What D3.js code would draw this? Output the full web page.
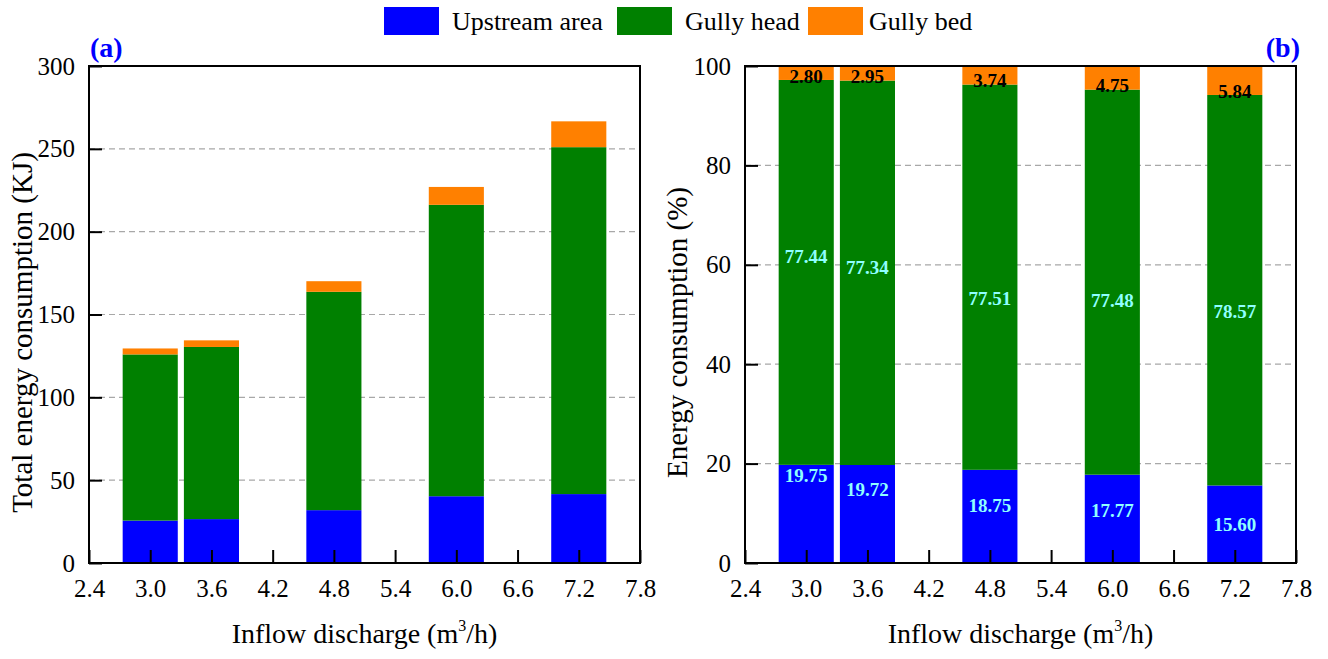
<!DOCTYPE html>
<html>
<head>
<meta charset="utf-8">
<script src="https://cdn.jsdelivr.net/npm/d3@7"></script>
<style>
  html, body { margin: 0; padding: 0; background: #fff; }
  svg { display: block; font-family: "Liberation Serif", "Times New Roman", serif; }
</style>
</head>
<body>
<svg id="chart" width="1328" height="659"></svg>
<script>
// Inflow discharge (m3/h) of each run
const discharge = [3.0, 3.6, 4.8, 6.0, 7.2];
const seriesNames = ["Upstream area", "Gully head", "Gully bed"];
const seriesColors = ["#0000ff", "#008000", "#ff8000"];

// (a) energy consumed in each zone, KJ
const upstreamKJ = [25.6, 26.5, 31.9, 40.3, 41.6];
const gullyHeadKJ = [100.3, 103.9, 131.8, 175.9, 209.4];
const gullyBedKJ = [3.6, 4.0, 6.4, 10.8, 15.6];

// (b) share of the total, %
const upstreamPct = [19.75, 19.72, 18.75, 17.77, 15.60];
const gullyHeadPct = [77.44, 77.34, 77.51, 77.48, 78.57];
const gullyBedPct = [2.80, 2.95, 3.74, 4.75, 5.84];

// where the percentage labels sit inside their segments (in % units)
const upstreamLabelAt = [17.7, 14.9, 11.7, 10.5, 7.8];
const gullyHeadLabelAt = [61.8, 59.4, 53.3, 52.9, 50.7];

// axis ticks
const xTicks = [2.4, 3.0, 3.6, 4.2, 4.8, 5.4, 6.0, 6.6, 7.2, 7.8];
const yTicksA = [0, 50, 100, 150, 200, 250, 300];
const yTicksB = [0, 20, 40, 60, 80, 100];

const svg = d3.select("#chart");
const barWidth = 0.54;   // bar width in discharge units
const plotTop = 66, plotBottom = 563;

function stackRows(a, b, c) {
  return discharge.map((q, i) => ({ q, a: a[i], b: b[i], c: c[i] }));
}

function drawPanel(opt) {
  const x = d3.scaleLinear().domain([2.4, 7.8]).range([opt.left, opt.right]);
  const y = d3.scaleLinear().domain(opt.yDomain).range([plotBottom, plotTop]);
  const g = svg.append("g");

  // dashed grid
  g.append("g").selectAll("line")
    .data(opt.yTicks.filter(t => t > opt.yDomain[0] && t < opt.yDomain[1]))
    .join("line")
    .attr("x1", opt.left).attr("x2", opt.right)
    .attr("y1", d => y(d)).attr("y2", d => y(d))
    .attr("stroke", "#a8a8a8").attr("stroke-width", 1.2)
    .attr("stroke-dasharray", "6,4");

  // stacked bars
  const stack = d3.stack().keys(["a", "b", "c"])(opt.rows);
  const w = x(barWidth) - x(0);
  g.append("g").selectAll("g")
    .data(stack)
    .join("g")
    .attr("fill", (d, i) => seriesColors[i])
    .selectAll("rect")
    .data(d => d)
    .join("rect")
    .attr("x", d => x(d.data.q) - w / 2)
    .attr("width", w)
    .attr("y", d => y(d[1]))
    .attr("height", d => y(d[0]) - y(d[1]));

  if (opt.labels) opt.labels(g, x, y, stack);

  // axes with inward ticks
  const xAxis = d3.axisBottom(x).tickValues(xTicks).tickFormat(d3.format(".1f"))
    .tickSizeInner(-13).tickSizeOuter(0).tickPadding(16);
  const gx = g.append("g").attr("transform", `translate(0,${plotBottom})`).call(xAxis);
  const yAxis = d3.axisLeft(y).tickValues(opt.yTicks).tickFormat(d3.format("d"))
    .tickSizeInner(-13).tickSizeOuter(0).tickPadding(14);
  const gy = g.append("g").attr("transform", `translate(${opt.left},0)`).call(yAxis);
  [gx, gy].forEach(a => {
    a.select(".domain").remove();
    a.selectAll(".tick line").attr("stroke", "#000").attr("stroke-width", 2);
    a.selectAll(".tick text").attr("fill", "#000")
      .style("font-size", "25px").style("font-family", "Liberation Serif");
  });
  gx.selectAll(".tick text").attr("dy", "0.71em");

  // frame
  g.append("rect")
    .attr("x", opt.left).attr("y", plotTop)
    .attr("width", opt.right - opt.left).attr("height", plotBottom - plotTop)
    .attr("fill", "none").attr("stroke", "#000").attr("stroke-width", 2);

  // axis titles
  const xt = g.append("text")
    .attr("x", (opt.left + opt.right) / 2).attr("y", 643)
    .attr("text-anchor", "middle").style("font-size", "28px");
  xt.append("tspan").text("Inflow discharge (m");
  xt.append("tspan").text("3").attr("dy", -12).style("font-size", "16px");
  xt.append("tspan").text("/h)").attr("dy", 12);

  g.append("text")
    .attr("transform", `translate(${opt.yTitleX},${(plotTop + plotBottom) / 2 + 18}) rotate(-90)`)
    .attr("text-anchor", "middle").style("font-size", "29px")
    .text(opt.yTitle);

  // panel tag
  g.append("text")
    .attr("x", opt.tagX).attr("y", 57)
    .attr("text-anchor", opt.tagAnchor)
    .attr("fill", "#0000ff").style("font-size", "28px").style("font-weight", "bold")
    .text(opt.tag);
}

drawPanel({
  left: 89, right: 640,
  yDomain: [0, 300], yTicks: yTicksA,
  rows: stackRows(upstreamKJ, gullyHeadKJ, gullyBedKJ),
  yTitle: "Total energy consumption (KJ)", yTitleX: 32,
  tag: "(a)", tagX: 90, tagAnchor: "start"
});

drawPanel({
  left: 745, right: 1296,
  yDomain: [0, 100], yTicks: yTicksB,
  rows: stackRows(upstreamPct, gullyHeadPct, gullyBedPct),
  yTitle: "Energy consumption (%)", yTitleX: 687,
  tag: "(b)", tagX: 1300, tagAnchor: "end",
  labels: (g, x, y, stack) => {
    const lab = g.append("g").attr("text-anchor", "middle")
      .style("font-size", "19px").style("font-weight", "bold");
    lab.selectAll(".up").data(discharge).join("text")
      .attr("x", d => x(d)).attr("y", (d, i) => y(upstreamLabelAt[i]))
      .attr("dy", "0.35em").attr("fill", "#8fffff")
      .text((d, i) => upstreamPct[i].toFixed(2));
    lab.selectAll(".head").data(discharge).join("text")
      .attr("x", d => x(d)).attr("y", (d, i) => y(gullyHeadLabelAt[i]))
      .attr("dy", "0.35em").attr("fill", "#8fffff")
      .text((d, i) => gullyHeadPct[i].toFixed(2));
    // gully bed share printed around the bottom edge of its orange cap
    lab.selectAll(".bed").data(stack[2]).join("text")
      .attr("x", d => x(d.data.q)).attr("y", d => y(d[0]) - 4)
      .attr("dy", "0.35em").attr("fill", "#000")
      .text(d => d.data.c.toFixed(2));
  }
});

// legend
const legendX = [384, 617, 808];
const legend = svg.append("g");
seriesNames.forEach((name, i) => {
  legend.append("rect").attr("x", legendX[i]).attr("y", 7)
    .attr("width", 55).attr("height", 28).attr("fill", seriesColors[i]);
  legend.append("text").attr("x", legendX[i] + (i === 2 ? 61 : 68)).attr("y", 30)
    .style("font-size", "26px").text(name);
});
</script>
</body>
</html>
